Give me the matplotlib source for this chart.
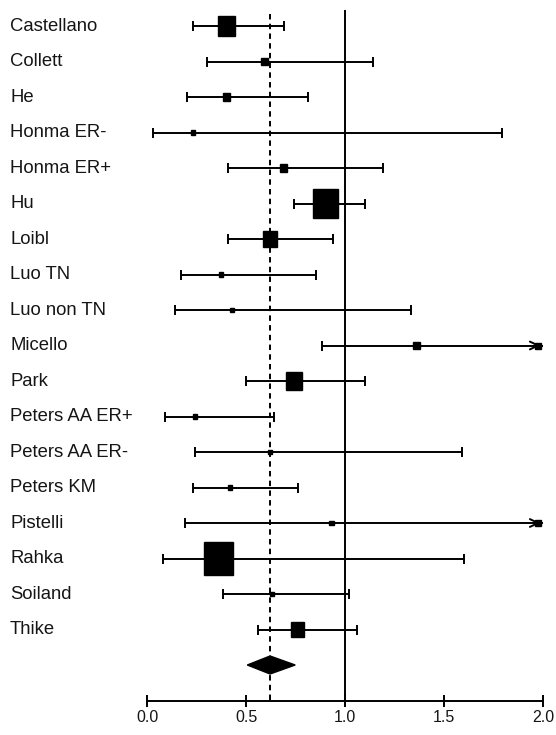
import numpy as np
import matplotlib.pyplot as plt
from matplotlib.patches import Rectangle, Polygon

studies = ['Castellano', 'Collett', 'He', 'Honma ER-', 'Honma ER+', 'Hu', 'Loibl',
           'Luo TN', 'Luo non TN', 'Micello', 'Park', 'Peters AA ER+', 'Peters AA ER-',
           'Peters KM', 'Pistelli', 'Rahka', 'Soiland', 'Thike']
estimate = [0.40, 0.59, 0.40, 0.23, 0.69, 0.90, 0.62, 0.37, 0.43, 1.36, 0.74, 0.24,
            0.62, 0.42, 0.93, 0.36, 0.63, 0.76]
lower = [0.23, 0.30, 0.20, 0.03, 0.41, 0.74, 0.41, 0.17, 0.14, 0.88, 0.50, 0.09,
         0.24, 0.23, 0.19, 0.08, 0.38, 0.56]
upper = [0.69, 1.14, 0.81, 1.79, 1.19, 1.10, 0.94, 0.85, 1.33, 2.45, 1.10, 0.64,
         1.59, 0.76, 2.30, 1.60, 1.02, 1.06]
weight = [10.3, 1.8, 1.8, 0.6, 1.8, 24.3, 6.5, 0.6, 0.6, 1.8, 9.8, 0.6, 0.6, 0.6,
          0.7, 30.4, 0.6, 6.5]
pooled = [0.62, 0.505, 0.747]  # estimate, lower, upper
xticks = [0.0, 0.5, 1.0, 1.5, 2.0]

W, H = 556, 735
fig = plt.figure(figsize=(W / 100, H / 100), dpi=100)
axis_px = 700.7
ax = fig.add_axes([0, (H - axis_px) / H, 1, axis_px / H])

# pixel -> data scales
px_x = 198.0           # pixels per unit on x
x0_px = 147.3
row_px = 35.5
row0_px = 26.0
ax.set_xlim(-x0_px / px_x, (W - x0_px) / px_x)
ax.set_ylim((axis_px - row0_px) / row_px, -row0_px / row_px)

xmax = 2.0
ink = 'black'
txt = '#151515'
lw = 1.4
n = len(studies)
ys = np.arange(n)

# reference lines
y_axis = (axis_px - row0_px) / row_px
ax.vlines(1.0, -16 / row_px, y_axis, color=ink, lw=lw)
ax.vlines(pooled[0], -12 / row_px, y_axis, color=ink, lw=lw, linestyles=(0, (2.8, 2.2)))

for y, est, lo, hi, w in zip(ys, estimate, lower, upper, weight):
    hi_c = min(hi, xmax)
    ax.hlines(y, lo, hi_c, color=ink, lw=lw)
    ax.plot([lo], [y], marker='|', ms=6.5, mew=lw, color=ink)
    if hi > xmax:
        ax.annotate('', xy=(xmax, y), xytext=(xmax - 0.06, y),
                    arrowprops=dict(arrowstyle='->,head_length=0.6,head_width=0.28',
                                    color=ink, lw=lw))
        ax.plot([xmax - 0.025], [y], marker='s', ms=4, color=ink)
    else:
        ax.plot([hi], [y], marker='|', ms=6.5, mew=lw, color=ink)
    side = 5.2 * np.sqrt(w)
    bw = side / px_x
    bh = side * 1.14 / row_px
    ax.add_patch(Rectangle((est - bw / 2, y - bh / 2), bw, bh, color=ink, zorder=3))
    ax.text(10 / W, y, studies[y], transform=ax.get_yaxis_transform(),
            ha='left', va='center', fontsize=13.3, color=txt,
            family='Liberation Sans')

# pooled diamond
yd = n
hd = 9 / row_px
ax.add_patch(Polygon([[pooled[1], yd], [pooled[0], yd - hd], [pooled[2], yd],
                      [pooled[0], yd + hd]], closed=True, color=ink, zorder=3))

for s in ['top', 'right', 'left']:
    ax.spines[s].set_visible(False)
ax.spines['bottom'].set_bounds(0, 2)
ax.spines['bottom'].set_linewidth(lw)
ax.set_yticks([])
ax.set_xticks(xticks)
ax.set_xticklabels([f'{t:.1f}' for t in xticks], fontsize=11.5, color=txt,
                   family='Liberation Sans')
ax.tick_params(axis='x', direction='inout', length=8, width=lw, pad=3)
ax.patch.set_visible(False)

fig.savefig('out.png', dpi=100, facecolor='white')
